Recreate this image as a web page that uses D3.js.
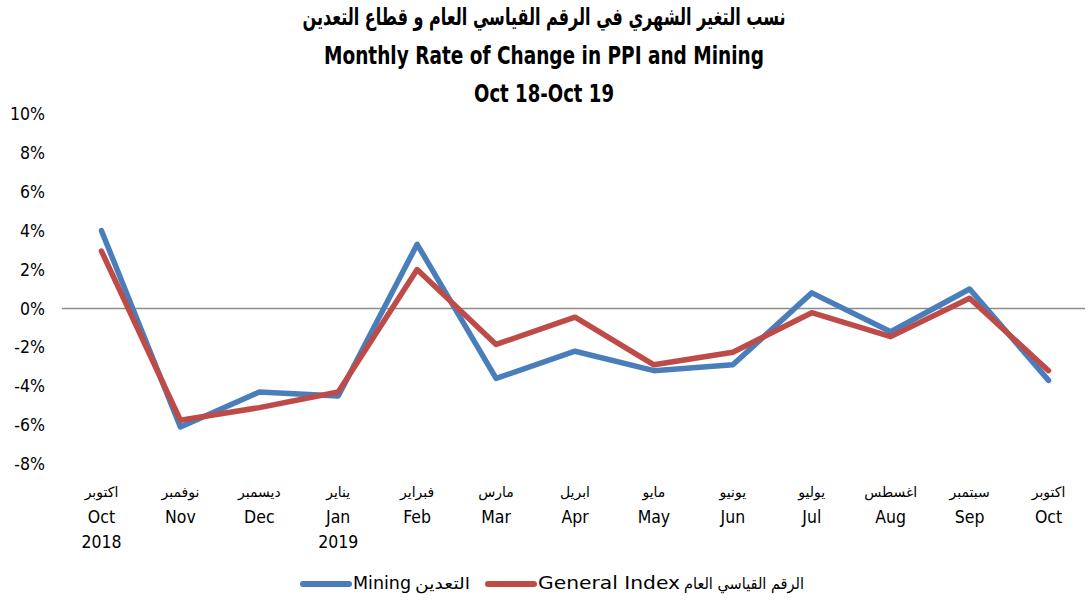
<!DOCTYPE html>
<html>
<head>
<meta charset="utf-8">
<script src="https://cdn.jsdelivr.net/npm/d3@7"></script>
<style>
  body { margin: 0; background: #fff; }
  text { font-family: "Liberation Sans Narrow", "DejaVu Sans Condensed", "DejaVu Sans", sans-serif; fill: #000; }
  .ar { font-family: "DejaVu Sans", sans-serif; }
</style>
</head>
<body>
<svg id="chart" width="1088" height="604"></svg>
<script>
var monthsEn = ["Oct", "Nov", "Dec", "Jan", "Feb", "Mar", "Apr", "May", "Jun", "Jul", "Aug", "Sep", "Oct"],
monthsAr = ["اكتوبر", "نوفمبر", "ديسمبر", "يناير", "فبراير", "مارس", "ابريل", "مايو", "يونيو", "يوليو", "اغسطس", "سبتمبر", "اكتوبر"],
years = ["2018", "", "", "2019", "", "", "", "", "", "", "", "", ""],
mining = [4.0, -6.1, -4.3, -4.5, 3.3, -3.6, -2.2, -3.2, -2.9, 0.8, -1.2, 1.0, -3.7],
general = [2.95, -5.75, -5.1, -4.3, 2.0, -1.85, -0.45, -2.9, -2.25, -0.22, -1.45, 0.52, -3.2],
yTicks = [10, 8, 6, 4, 2, 0, -2, -4, -6, -8],
titleLines = ["نسب التغير الشهري في الرقم القياسي العام و قطاع التعدين", "Monthly Rate of Change in PPI and Mining", "Oct 18-Oct 19"]

var svg = d3.select("#chart")
var plotLeft = 62, plotRight = 1088

var x = d3.scaleBand()
	.domain(d3.range(monthsEn.length))
	.range([plotLeft, plotRight])

var y = d3.scaleLinear()
	.domain([-8, 10])
	.range([464, 114])

function cx(i) { return x(i) + x.bandwidth() / 2 }

// title
var titleWidths = [483, 440, 140]
svg.selectAll(".title")
	.data(titleLines)
	.enter()
	.append("text")
	.attr("class", function(d, i) { return i == 0 ? "title ar" : "title" })
	.text(function(d) { return d })
	.attr("x", 544)
	.attr("y", function(d, i) { return [18, 57, 95][i] })
	.attr("text-anchor", "middle")
	.attr("dominant-baseline", "middle")
	.attr("font-weight", "bold")
	.attr("font-size", function(d, i) { return i == 0 ? "24px" : "24px" })
	.attr("textLength", function(d, i) { return titleWidths[i] })
	.attr("lengthAdjust", "spacingAndGlyphs")

// y axis labels
var yAxis = d3.axisLeft(y).tickValues(yTicks).tickSize(0).tickPadding(0)
	.tickFormat(function(d) { return d + "%" })
var yg = svg.append("g")
	.attr("transform", "translate(45,0)")
	.call(yAxis)
yg.select(".domain").remove()
yg.selectAll("text")
	.attr("font-size", "17.5px")
	.attr("font-family", null)
	.attr("fill", "#000")

// zero line
svg.append("line")
	.attr("x1", plotLeft)
	.attr("x2", plotRight - 3)
	.attr("y1", y(0))
	.attr("y2", y(0))
	.attr("stroke", "#8c8c8c")
	.attr("stroke-width", 1.5)

// x labels
var xl = svg.append("g").attr("class", "x-labels")
xl.selectAll(".ar-label")
	.data(monthsAr)
	.enter()
	.append("text")
	.attr("class", "ar")
	.text(function(d) { return d })
	.attr("x", function(d, i) { return cx(i) })
	.attr("y", 493)
	.attr("text-anchor", "middle")
	.attr("dominant-baseline", "middle")
	.attr("font-size", "14px")
xl.selectAll(".en-label")
	.data(monthsEn)
	.enter()
	.append("text")
	.text(function(d) { return d })
	.attr("x", function(d, i) { return cx(i) })
	.attr("y", 518)
	.attr("text-anchor", "middle")
	.attr("dominant-baseline", "middle")
	.attr("font-size", "17.5px")
xl.selectAll(".yr-label")
	.data(years)
	.enter()
	.append("text")
	.text(function(d) { return d })
	.attr("x", function(d, i) { return cx(i) })
	.attr("y", 543)
	.attr("text-anchor", "middle")
	.attr("dominant-baseline", "middle")
	.attr("font-size", "17.5px")

// lines
var line = d3.line()
	.x(function(d, i) { return cx(i) })
	.y(function(d) { return y(d) })

var series = [
	{name: "mining", values: mining, color: "#4a7ebb"},
	{name: "general", values: general, color: "#be4b48"}
]
svg.selectAll(".series")
	.data(series)
	.enter()
	.append("path")
	.attr("class", "series")
	.attr("d", function(d) { return line(d.values) })
	.attr("fill", "none")
	.attr("stroke", function(d) { return d.color })
	.attr("stroke-width", 5.5)
	.attr("stroke-linejoin", "round")
	.attr("stroke-linecap", "round")

// legend
var legend = [
	{en: "Mining", ar: "التعدين", color: "#4a7ebb", x: 303, enW: 58, arW: 55},
	{en: "General Index", ar: "الرقم القياسي العام", color: "#be4b48", x: 488, enW: 142, arW: 120}
]
var lg = svg.selectAll(".legend")
	.data(legend)
	.enter()
	.append("g")
	.attr("class", "legend")
	.attr("transform", function(d) { return "translate(" + d.x + ",584)" })
lg.append("line")
	.attr("x1", 0)
	.attr("x2", 46)
	.attr("stroke", function(d) { return d.color })
	.attr("stroke-width", 6)
	.attr("stroke-linecap", "round")
lg.append("text")
	.text(function(d) { return d.en })
	.attr("x", 50)
	.attr("dominant-baseline", "middle")
	.attr("font-size", "18px")
	.attr("textLength", function(d) { return d.enW })
	.attr("lengthAdjust", "spacingAndGlyphs")
lg.append("text")
	.attr("class", "ar")
	.text(function(d) { return d.ar })
	.attr("x", function(d) { return 50 + d.enW + 4 })
	.attr("dominant-baseline", "middle")
	.attr("font-size", "16px")
	.attr("textLength", function(d) { return d.arW })
	.attr("lengthAdjust", "spacingAndGlyphs")
</script>
</body>
</html>
